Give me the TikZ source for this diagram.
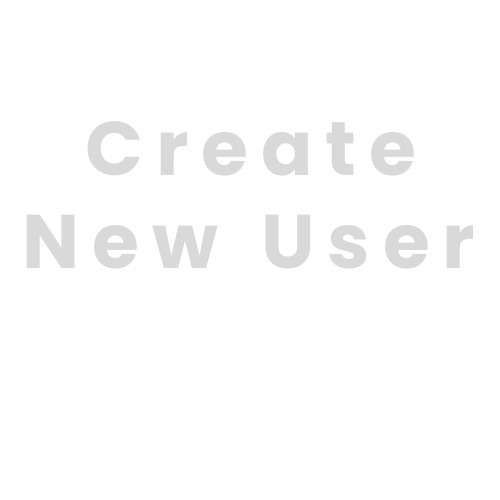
\documentclass[tikz,border=0pt]{standalone}
\usepackage{fontspec}
\setmainfont{Poppins}[UprightFont=* Bold,BoldFont=* Bold]
\definecolor{txtgrey}{HTML}{D9D9D9}
\begin{document}
\begin{tikzpicture}[x=1pt,y=-1pt]
\tikzset{bigword/.style={text=txtgrey,font=\fontsize{76}{76}\selectfont\addfontfeature{LetterSpace=17},inner sep=0pt,anchor=base}}
\fill[white] (0,0) rectangle (500,500);
\useasboundingbox (0,0) rectangle (500,500);
\node[bigword] (create) at (251,175) {Create};
\node[bigword] (newuser) at (249,268) {New\hspace{14pt} User};
\end{tikzpicture}
\end{document}
